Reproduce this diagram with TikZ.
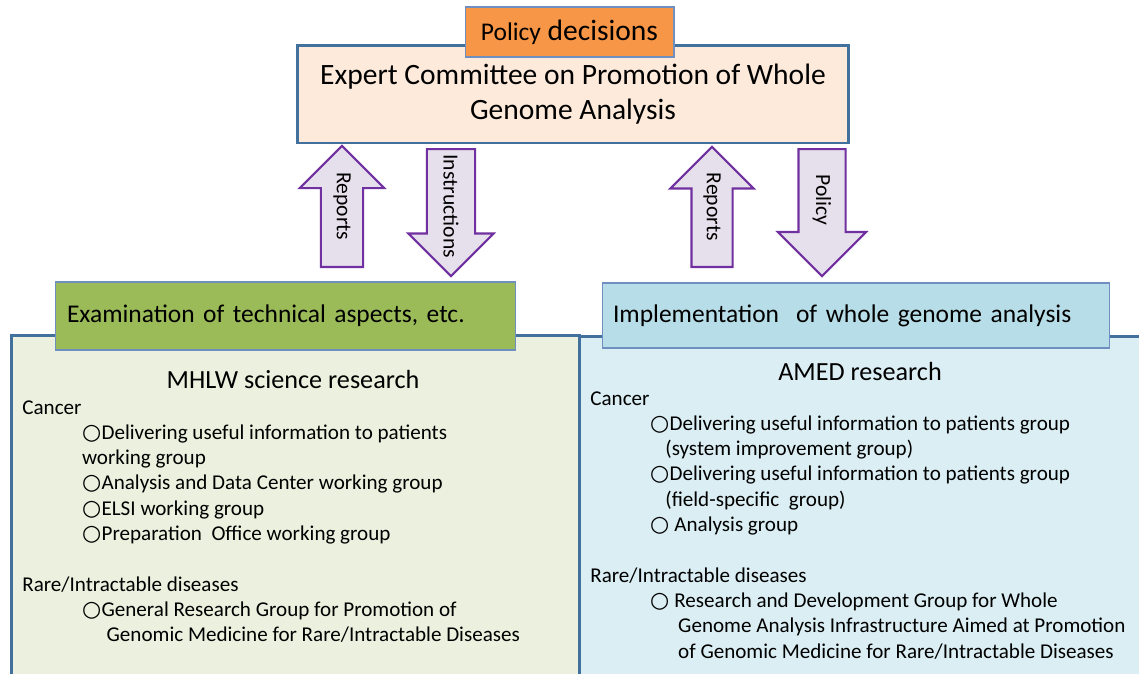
\documentclass[tikz,border=0pt]{standalone}
\usepackage{fontspec}
\setmainfont{Carlito}
\newfontfamily\symfont{DejaVu Sans}
\usetikzlibrary{shapes.arrows,calc}

\definecolor{edgeblue}{HTML}{41719C}
\definecolor{thinblue}{HTML}{6F8FC0}
\definecolor{peach}{HTML}{FDEADA}
\definecolor{orangebox}{HTML}{F79646}
\definecolor{arrowline}{HTML}{7030A0}
\definecolor{arrowfill}{HTML}{E6E0EC}
\definecolor{greenhead}{HTML}{9BBB59}
\definecolor{greenpanel}{HTML}{EBF1DE}
\definecolor{bluehead}{HTML}{B7DEE8}
\definecolor{bluepanel}{HTML}{DAEEF3}

\newcommand{\wcirc}{{\symfont\fontsize{12.5}{9}\selectfont ○}\kern.2pt}
\newcommand{\bodysize}{\fontsize{12}{14.4}\selectfont}

\tikzset{
    panel/.style={draw=edgeblue, line width=1.7pt, anchor=north west, inner sep=0pt},
    header/.style={draw=thinblue, line width=.6pt, align=left, inner ysep=0pt,
        font=\fontsize{14.5}{17}\selectfont},
    bigarrow/.style={single arrow, draw=arrowline, fill=arrowfill, line width=1.2pt,
        single arrow head extend=.42cm, rotate=-90, anchor=tail, inner xsep=0pt,
        text height=7.5pt, text depth=2.5pt},
    uparrow/.style={bigarrow, shape border rotate=180},
    arrowtext/.style={rotate=-90, font=\fontsize{12.3}{14}\selectfont},
    bodytext/.style={align=left, anchor=north west, inner sep=0pt, font=\bodysize},
    titletext/.style={font=\fontsize{14.9}{17}\selectfont}
}

\begin{document}
\begin{tikzpicture}[x=0.02cm, y=-0.02cm]
    \useasboundingbox (0,0) rectangle (1139,673);
    \clip (0,0) rectangle (1139,673);

    % committee on top
    \node[draw=edgeblue, fill=peach, line width=1.7pt, minimum width=11.04cm, minimum height=1.96cm,
        align=center, font=\fontsize{16.8}{19.5}\selectfont] (expert) at (573,94)
        {Expert Committee on Promotion of Whole\\Genome Analysis};
    \node[draw=thinblue, fill=orangebox, line width=.6pt, minimum width=4.18cm, minimum height=1cm,
        font=\fontsize{16.8}{18}\selectfont] (decision) at (569.5,32)
        {{\fontsize{14.5}{15}\selectfont Policy} decisions};

    % arrows
    \node[uparrow, minimum height=2.42cm, inner ysep=6.4pt] (reportsl) at (342,268) {};
    \node[bigarrow, minimum height=2.54cm, inner ysep=8.1pt, single arrow head extend=.37cm] (instr) at (451,148) {};
    \node[uparrow, minimum height=2.4cm, inner ysep=6.1pt] (reportsr) at (712,268) {};
    \node[bigarrow, minimum height=2.54cm, inner ysep=7.8pt, single arrow head extend=.41cm] (policy) at (822,148) {};
    \node[arrowtext] (reportsltext) at ($(reportsl.tail)!.5!(reportsl.tip)$) {Reports};
    \node[arrowtext] (instrtext) at ($(instr.tail)!.45!(instr.tip)$) {Instructions};
    \node[arrowtext] (reportsrtext) at ($(reportsr.tail)!.5!(reportsr.tip)$) {Reports};
    \node[arrowtext] (policytext) at ($(policy.tail)!.4!(policy.tip)$) {Policy};

    % panels
    \node[panel, fill=greenpanel, minimum width=11.36cm, minimum height=7.4cm] (mhlw) at (10,334) {};
    \node[panel, fill=bluepanel, minimum width=12cm, minimum height=7.4cm] (amed) at (578,335) {};

    \node[header, fill=greenhead, inner xsep=.24cm, text width=8.74cm, minimum height=1.36cm] (exam)
        at (285.5,316) {Examination of technical aspects, etc.};
    \node[header, fill=bluehead, inner xsep=.22cm, text width=9.72cm, minimum height=1.3cm] (impl)
        at (856,315.5) {Implementation\ \ of whole genome analysis};

    % left panel
    \node[titletext] (mhlwtitle) at (293,380) {MHLW science research};
    \node[bodytext] (mhlwlist) at (22,400) {Cancer\\
        \hspace*{34pt}\wcirc Delivering useful information to patients\\
        \hspace*{34pt}working group\\
        \hspace*{34pt}\wcirc Analysis and Data Center working group\\
        \hspace*{34pt}\wcirc ELSI working group\\
        \hspace*{34pt}\wcirc Preparation\ \ Office working group\\[14.4pt]
        Rare/Intractable diseases\\
        \hspace*{34pt}\wcirc General Research Group for Promotion of\\
        \hspace*{48pt}Genomic Medicine for Rare/Intractable Diseases};

    % right panel
    \node[titletext] (amedtitle) at (860,372) {AMED research};
    \node[bodytext] (amedlist) at (590,391) {Cancer\\
        \hspace*{34pt}\wcirc Delivering useful information to patients group\\
        \hspace*{42.7pt}(system improvement group)\\
        \hspace*{34pt}\wcirc Delivering useful information to patients group\\
        \hspace*{42.7pt}(field-specific\ \ group)\\
        \hspace*{34pt}\wcirc\ Analysis group\\[14.4pt]
        Rare/Intractable diseases\\
        \hspace*{34pt}\wcirc\ Research and Development Group for Whole\\
        \hspace*{50pt}Genome Analysis Infrastructure Aimed at Promotion\\
        \hspace*{50pt}of Genomic Medicine for Rare/Intractable Diseases};
\end{tikzpicture}
\end{document}
